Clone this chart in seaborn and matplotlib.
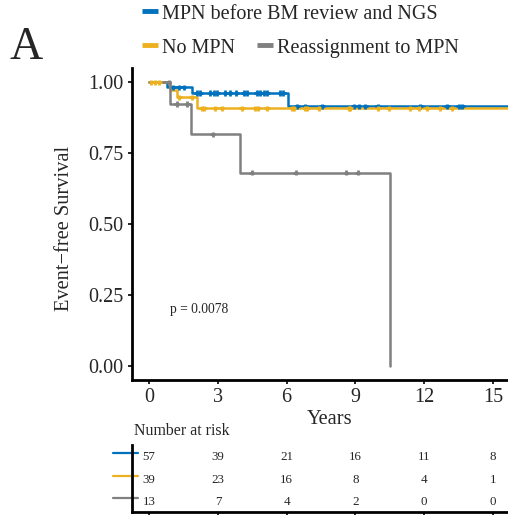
import numpy as np
import pandas as pd
import matplotlib
matplotlib.use("Agg")
import matplotlib.pyplot as plt
import matplotlib.transforms as mtransforms
from matplotlib.lines import Line2D
import seaborn as sns

# groups and colours
groups = ["MPN before BM review and NGS", "No MPN", "Reassignment to MPN"]
colors = ["#0072BD", "#EDB120", "#808080"]

# step points of the KM curves (years, survival)
blue_t = [0, 0.77, 1.86, 6.08, 16.0]
blue_s = [1.0, 0.982, 0.962, 0.915, 0.915]
yellow_t = [0, 0.92, 1.2, 2.1, 16.0]
yellow_s = [1.0, 0.974, 0.947, 0.908, 0.908]
gray_t = [0, 0.92, 1.82, 3.97, 10.5]
gray_s = [1.0, 0.923, 0.816, 0.681, 0.0]

# censoring times
blue_c = [1.05, 1.3, 1.5, 2.08, 2.23, 2.66, 2.81, 2.96, 3.32, 3.54, 3.8, 4.12, 4.26,
          4.7, 4.85, 4.99, 5.14, 5.72, 5.84, 6.45, 6.81, 7.54, 8.92, 9.14, 9.43,
          9.97, 11.83, 13.0, 13.5, 13.65]
yellow_c = [0.1, 0.25, 0.45, 1.31, 1.86, 2.3, 2.4, 2.88, 3.17, 4.05, 4.63, 4.77, 5.14,
            6.23, 6.3, 6.81, 6.89, 7.39, 8.7, 8.78, 10.0, 10.45, 11.4, 11.76, 12.13,
            12.7, 13.2]
gray_c = [0.85, 1.2, 1.67, 2.78, 4.48, 6.4, 8.6, 9.1]

# number at risk table
risk_times = [0, 3, 6, 9, 12, 15]
blue_risk = [57, 39, 21, 16, 11, 8]
yellow_risk = [39, 23, 16, 8, 4, 1]
gray_risk = [13, 7, 4, 2, 0, 0]

p_text = "p = 0.0078"

sns.set_theme(style="white")
plt.rcParams["font.family"] = ["Liberation Serif", "DejaVu Serif"]

curves = []
cens = []
for g, t, s, c in [(groups[0], blue_t, blue_s, blue_c),
                   (groups[1], yellow_t, yellow_s, yellow_c),
                   (groups[2], gray_t, gray_s, gray_c)]:
    curves.append(pd.DataFrame({"time": t, "surv": s, "group": g}))
    idx = np.searchsorted(t, c, side="right") - 1
    cens.append(pd.DataFrame({"time": c, "surv": np.array(s)[idx], "group": g}))
df = pd.concat(curves, ignore_index=True)
dc = pd.concat(cens, ignore_index=True)
pal = dict(zip(groups, colors))

fig = plt.figure(figsize=(5.08, 5.15), dpi=100)
W, H = 508, 515
ax = fig.add_axes([132 / W, 1 - 380 / H, 376 / W, 312 / H])

sns.lineplot(data=df, x="time", y="surv", hue="group", palette=pal,
             drawstyle="steps-post", estimator=None, sort=False,
             linewidth=1.8, legend=False, ax=ax)
sns.scatterplot(data=dc, x="time", y="surv", hue="group", palette=pal,
                marker="+", s=14, linewidth=2.0, legend=False, ax=ax, zorder=3)

ax.set_xlim(-0.75, 15.66)
ax.set_ylim(-0.05, 1.05)
ax.set_xticks([0, 3, 6, 9, 12, 15])
ax.set_yticks([0, 0.25, 0.5, 0.75, 1.0])
ax.set_yticklabels(["0.00", "0.25", "0.50", "0.75", "1.00"])
ax.tick_params(axis="both", labelsize=14.5, length=3, width=1.2, color="black",
               direction="out", pad=3, bottom=True, left=True)
for side in ["top", "right"]:
    ax.spines[side].set_visible(False)
for side in ["left", "bottom"]:
    ax.spines[side].set_linewidth(2.0)
    ax.spines[side].set_color("black")
ax.set_xlabel("")
ax.set_ylabel("Event\u2212free Survival", fontsize=14.7)
ax.yaxis.set_label_coords((74 - 132) / 376, 0.486)
ax.text(0.9, 0.2, p_text, fontsize=9.8, ha="left", va="center")

fig.text(330 / W, 1 - 419 / H, "Years", fontsize=14.7, ha="center", va="center")
fig.text(10 / W, 1 - 59 / H, "A", fontsize=33, ha="left", va="baseline")

# legend
h = [Line2D([], [], color=c, lw=3.5, solid_capstyle="butt") for c in colors]
fig.legend(h[:1], groups[:1], loc="center left", frameon=False,
           bbox_to_anchor=(142 / W, 1 - 14 / H), fontsize=14.5,
           handlelength=0.78, handletextpad=0.22, borderpad=0, borderaxespad=0)
fig.legend(h[1:], groups[1:], loc="center left", frameon=False, ncol=2,
           bbox_to_anchor=(142 / W, 1 - 48 / H), fontsize=14.5,
           handlelength=0.78, handletextpad=0.22, columnspacing=1.1,
           borderpad=0, borderaxespad=0)

# risk table
rt = fig.add_axes([132 / W, 1 - 512 / H, 376 / W, 67 / H])
rt.set_xlim(ax.get_xlim())
rt.set_ylim(0.5, 3.5)
for row, vals, c in [(3, blue_risk, colors[0]), (2, yellow_risk, colors[1]),
                     (1, gray_risk, colors[2])]:
    for x, v in zip(risk_times, vals):
        rt.text(x, row - 0.05, str(v), fontsize=9.4, ha="center", va="center")
    tr = mtransforms.blended_transform_factory(rt.transAxes, rt.transData)
    rt.plot([-0.05, 0.017], [row + 0.12, row + 0.12], color=c, lw=1.6,
            transform=tr, clip_on=False)
rt.set_xticks(risk_times)
rt.set_xticklabels([])
rt.set_yticks([])
rt.tick_params(axis="x", length=3, width=1.2, color="black", bottom=True)
for side in ["top", "right"]:
    rt.spines[side].set_visible(False)
for side in ["left", "bottom"]:
    rt.spines[side].set_linewidth(2.0)
    rt.spines[side].set_color("black")
fig.text(134 / W, 1 - 431 / H, "Number at risk", fontsize=11.4, ha="left", va="center")

fig.savefig("out.png", dpi=100)
